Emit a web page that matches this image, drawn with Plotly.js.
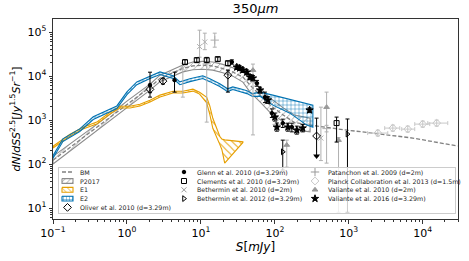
<!DOCTYPE html>
<html><head><meta charset="utf-8">
<script src="https://cdn.plot.ly/plotly-3.0.1.min.js"></script>
<style>html,body{margin:0;padding:0;background:#fff}#plot{width:469px;height:261px}</style>
</head><body><div id="plot"></div>
<script>
// ---------------- DATA ----------------
// BM model (dashed line)
const bmS = [0.1, 0.43, 1.0, 2.05, 2.8, 4.2, 5.7, 7.8, 10.6, 14.5, 19.8, 27, 37, 46, 63, 86, 130, 185, 300, 553, 950, 2110, 7330, 29700];
const bmN = [122, 760, 2260, 5600, 8900, 12200, 15000, 17100, 17800, 17000, 14900, 12400, 9500, 6300, 3700, 2200, 1300, 880, 770, 658, 590, 507, 390, 257];
// P2017 band
const p17S  = [0.1, 0.43, 1.0, 2.05, 2.8, 4.2, 5.7, 7.8, 10.6, 14.5, 19.8, 27, 37, 46, 63, 86, 130, 185, 300];
const p17Hi = [150, 900, 2700, 6600, 10500, 14500, 18000, 21000, 21900, 21000, 18500, 15500, 12300, 9000, 5300, 3200, 1900, 1300, 1100];
const p17Lo = [100, 640, 1900, 4800, 7500, 10200, 12500, 14000, 14400, 13700, 12000, 10000, 7300, 4400, 2600, 1500, 900, 600, 540];
// E1 band
const e1S  = [0.1, 0.17, 0.254, 0.39, 0.59, 0.8, 1.1, 1.5, 2.05, 2.8, 4.2, 5.7, 7.8, 9.6, 12, 13.2, 14.5, 16.4, 18, 19.2, 21, 37];
const e1Hi = [255, 480, 690, 900, 1510, 2070, 2070, 2300, 2840, 3700, 4550, 4550, 5050, 4300, 3300, 2100, 1100, 640, 430, 370, 355, 320];
const e1Lo = [232, 435, 630, 815, 1370, 1880, 1880, 2090, 2570, 3340, 4120, 4120, 4570, 3900, 2450, 1350, 650, 400, 280, 215, 105, 310];
// E2 band
const e2S  = [0.1, 0.136, 0.23, 0.35, 0.73, 1.0, 1.36, 2.05, 2.8, 4.2, 5.2, 7.1, 10.6, 13.2, 18, 23, 27, 34, 42, 50, 63, 94, 160, 270, 327];
const e2Hi = [155, 375, 630, 1190, 2100, 4400, 7400, 10200, 12500, 10200, 7400, 8700, 10200, 8700, 6700, 5150, 5700, 5150, 4650, 4000, 4330, 3700, 3000, 2400, 2190];
const e2Lo = [135, 325, 550, 1030, 1830, 3800, 6400, 8800, 10900, 8800, 6400, 7500, 8800, 7500, 5800, 4450, 4950, 4450, 4000, 3450, 3500, 2190, 1440, 770, 690];

// Observations: S, N, upper, lower
const glennS  = [2.05, 4.4, 26.2, 57.3, 73.5, 91.2, 128, 170];
const glennN  = [6300, 8100, 21000, 6900, 3330, 1440, 850, 690];
const glennHi = [12300, 12300, 23500, 8000, 4330, 1800, 1050, 850];
const glennLo = [3330, 4330, 18700, 5900, 2500, 1150, 680, 540];

const clemS  = [6.1, 8.8, 12.0, 16.9, 23.2, 684];
const clemN  = [20800, 23100, 23100, 24400, 19700, 855];
const clemHi = [23500, 26000, 26000, 27000, 22000, 1170];
const clemLo = [18500, 20500, 20500, 21800, 17500, 316];

const beth10S  = [5.7, 9.6, 11.3, 420];
const beth10N  = [15000, 47000, 60000, 390];
const beth10Hi = [19700, 111000, 95000, 1970];
const beth10Lo = [3330, 27000, 40000, 120];

const beth12S  = [128, 960];
const beth12N  = [190, 480];
const beth12Hi = [350, 1060];
const beth12Lo = [73, 8];

const oliverS  = [2.05, 3.07, 23.2, 367];
const oliverN  = [5000, 7700, 10500, 435];
const oliverHi = [6000, 9000, 13700, 1110];
const oliverLo = [4200, 6600, 4330, 152];
const oliverLimS = [367];
const oliverLimN = [152];

const patS  = [12.0, 15.4, 106, 501];
const patN  = [19000, 66000, 800, 640];
const patHi = [27000, 95000, 1000, 760];
const patLo = [900, 45600, 640, 540];

const planckS    = [2470, 3940, 6270, 10000, 15450];
const planckN    = [507, 658, 624, 811, 855];
const planckSmin = [1800, 3060, 5200, 7800, 11700];
const planckSmax = [3370, 4890, 7800, 12450, 21800];
const planckHi   = [590, 770, 730, 950, 1000];
const planckLo   = [435, 560, 535, 690, 730];

const val10S  = [50.6, 145, 501, 727];
const val10N  = [13700, 271, 1970, 350];
const val10Hi = [18800, 350, 4330, 400];
const val10Lo = [460, 85, 105, 8];

const val16S  = [30.6, 33.5, 36.9, 41.8, 46.1, 50.6, 63.1, 80.6, 100, 106.5, 150, 198, 238, 295];
const val16N  = [16000, 15200, 13700, 12300, 9500, 9000, 4810, 2850, 1170, 690, 690, 590, 658, 1690];
const val16Hi = [18000, 17200, 15500, 13900, 10900, 10300, 5600, 3400, 1450, 860, 850, 730, 800, 1900];
const val16Lo = [14200, 13400, 12100, 10800, 8300, 7800, 4100, 2400, 950, 560, 560, 480, 540, 1500];

// Tick labels
const xTickVals = [0.1, 1, 10, 100, 1000, 10000];
const xTickText = ['10<sup>−1</sup>', '10<sup>0</sup>', '10<sup>1</sup>', '10<sup>2</sup>', '10<sup>3</sup>', '10<sup>4</sup>'];
const yTickVals = [10, 100, 1000, 10000, 100000];
const yTickText = ['10<sup>1</sup>', '10<sup>2</sup>', '10<sup>3</sup>', '10<sup>4</sup>', '10<sup>5</sup>'];

const legendCol1 = ['BM', 'P2017', 'E1', 'E2', 'Oliver et al. 2010 (d=3.29m)'];
const legendCol2 = ['Glenn et al. 2010 (d=3.29m)', 'Clements et al. 2010 (d=3.29m)', 'Bethermin et al. 2010 (d=2m)', 'Bethermin et al. 2012 (d=3.29m)'];
const legendCol3 = ['Patanchon et al. 2009 (d=2m)', 'Planck Collaboration et al. 2013 (d=1.5m)', 'Valiante et al. 2010 (d=2m)', 'Valiante et al. 2016 (d=3.29m)'];

// ---------------- STYLE ----------------
const FONT = 'DejaVu Sans, sans-serif';
const BLUE = '#0072B2', ORANGE = '#E69F00', GRAY = '#808080';
const LG = '#b0b0b0';

function poly(S, hi, lo) {
  const xs = S.concat(S.slice().reverse()); xs.push(S[0]);
  const ys = hi.concat(lo.slice().reverse()); ys.push(hi[0]);
  return {x: xs, y: ys};
}
function bandTrace(S, hi, lo, color, shape, size, sol, xa, ya) {
  const p = poly(S, hi, lo);
  return {x: p.x, y: p.y, xaxis: xa || 'x', yaxis: ya || 'y', mode: 'lines', fill: 'toself',
    fillcolor: 'rgba(0,0,0,0)', line: {color: color, width: 1.1},
    fillpattern: {shape: shape, fgcolor: color, bgcolor: 'rgba(0,0,0,0)', size: size, solidity: sol},
    hoverinfo: 'skip'};
}
function obs(S, N, hi, lo, sym, col, ecol, size) {
  return {x: S, y: N, mode: 'markers', type: 'scatter',
    marker: {symbol: sym, color: col, size: size, line: {color: col, width: 1}},
    error_y: {type: 'data', symmetric: false,
      array: hi.map((h, i) => h - N[i]), arrayminus: lo.map((l, i) => N[i] - l),
      color: ecol, thickness: 1, width: 2}, hoverinfo: 'skip'};
}

const traces = [];
traces.push(bandTrace(p17S, p17Hi, p17Lo, '#8c8c8c', '/', 5, 0.14));
traces.push({x: bmS, y: bmN, mode: 'lines', line: {color: GRAY, width: 1.3, dash: '4px,2px'}, hoverinfo: 'skip'});
traces.push(bandTrace(e1S, e1Hi, e1Lo, ORANGE, '\\', 5, 0.18));
traces.push(bandTrace(e2S, e2Hi, e2Lo, BLUE, '+', 4, 0.2));

traces.push(obs(beth10S, beth10N, beth10Hi, beth10Lo, 'x-thin-open', LG, LG, 5));
traces.push(obs(patS, patN, patHi, patLo, 'cross-thin-open', LG, LG, 6));
traces.push(obs(val10S, val10N, val10Hi, val10Lo, 'triangle-up', '#999999', LG, 5));
const pl = obs(planckS, planckN, planckHi, planckLo, 'diamond-open', '#c8c8c8', '#c8c8c8', 6);
pl.error_x = {type: 'data', symmetric: false,
  array: planckSmax.map((v, i) => v - planckS[i]), arrayminus: planckSmin.map((v, i) => planckS[i] - v),
  color: '#c8c8c8', thickness: 1, width: 2};
traces.push(pl);
traces.push(obs(glennS, glennN, glennHi, glennLo, 'circle', '#000', '#000', 3.5));
traces.push(obs(clemS, clemN, clemHi, clemLo, 'square-open', '#000', '#000', 5));
traces.push(obs(beth12S, beth12N, beth12Hi, beth12Lo, 'triangle-right-open', '#000', '#000', 5));
traces.push(obs(oliverS, oliverN, oliverHi, oliverLo, 'diamond-open', '#000', '#000', 6));
traces.push({x: oliverLimS, y: oliverLimN, mode: 'markers', marker: {symbol: 'triangle-down', color: '#000', size: 6}, hoverinfo: 'skip'});
traces.push(obs(val16S, val16N, val16Hi, val16Lo, 'star', '#000', '#000', 5.5));

// ---------------- LEGEND (inset subplot with its own frame) ----------------
const rowY = [172.0, 181.0, 189.8, 198.6, 207.4];
const c1 = 62, c1w = 11, c1t = 78, c2 = 184, c2t = 195, c3 = 315, c3t = 326;
function legPatch(row, color, shape, size, sol) {
  const y0 = rowY[row] - 2.4, y1 = rowY[row] + 2.4;
  return bandTrace([c1, c1 + c1w], [y0, y0], [y1, y1], color, shape, size, sol, 'x2', 'y2');
}
traces.push({x: [c1, c1 + c1w], y: [rowY[0], rowY[0]], xaxis: 'x2', yaxis: 'y2', mode: 'lines',
  line: {color: GRAY, width: 1.3, dash: '4px,2px'}, hoverinfo: 'skip'});
traces.push(legPatch(1, '#8c8c8c', '/', 4, 0.2));
traces.push(legPatch(2, ORANGE, '\\', 4, 0.2));
traces.push(legPatch(3, BLUE, '+', 3, 0.25));
function legMark(x, row, sym, col, size) {
  return {x: [x], y: [rowY[row]], xaxis: 'x2', yaxis: 'y2', mode: 'markers',
    marker: {symbol: sym, color: col, size: size, line: {color: col, width: 1}}, hoverinfo: 'skip'};
}
traces.push(legMark(c1 + c1w / 2, 4, 'diamond-open', '#000', 6));
traces.push(legMark(c2, 0, 'circle', '#000', 3.5));
traces.push(legMark(c2, 1, 'square-open', '#000', 5));
traces.push(legMark(c2, 2, 'x-thin-open', '#999', 5));
traces.push(legMark(c2, 3, 'triangle-right-open', '#000', 5));
traces.push(legMark(c3, 0, 'cross-thin-open', '#999', 6));
traces.push(legMark(c3, 1, 'diamond-open', '#c8c8c8', 6));
traces.push(legMark(c3, 2, 'triangle-up', '#999', 5));
traces.push(legMark(c3, 3, 'star', '#000', 5.5));

const annotations = [];
function addCol(labels, x) {
  labels.forEach((t, i) => annotations.push({text: t, x: x, y: rowY[i], xref: 'x2', yref: 'y2',
    xanchor: 'left', yanchor: 'middle', showarrow: false, font: {family: FONT, size: 6.3, color: '#222'}}));
}
addCol(legendCol1, c1t); addCol(legendCol2, c2t); addCol(legendCol3, c3t);

function minorVals(d0, d1) {
  const out = [];
  for (let d = d0; d < d1; d++) for (let k = 2; k <= 9; k++) out.push(k * Math.pow(10, d));
  return out;
}

const axisCommon = {type: 'log', showline: true, mirror: true, linecolor: '#333', linewidth: 1,
  ticks: 'outside', ticklen: 3.5, tickwidth: 0.8, tickcolor: '#333', showgrid: false, zeroline: false,
  tickfont: {family: FONT, size: 11, color: '#000'}, tickmode: 'array'};

const layout = {
  width: 469, height: 261, showlegend: false, hovermode: false,
  margin: {l: 53, r: 11, t: 19, b: 42, pad: 0},
  paper_bgcolor: '#ffffff', plot_bgcolor: 'rgba(255,255,255,0.8)',
  font: {family: FONT, color: '#000'},
  title: {text: '350<i>μm</i>', x: 0.5, xref: 'paper', xanchor: 'center', y: 0.968, yref: 'container', yanchor: 'middle',
    font: {family: FONT, size: 13, color: '#000'}},
  xaxis: Object.assign({}, axisCommon, {range: [-1, Math.log10(30000)], tickvals: xTickVals, ticktext: xTickText,
    minor: {tickvals: minorVals(-1, 5), ticks: 'outside', ticklen: 2, tickwidth: 0.6, tickcolor: '#333', showgrid: false},
    title: {text: '<i>S</i>[<i>mJy</i>]', font: {family: FONT, size: 12, color: '#000'}, standoff: 3}}),
  yaxis: Object.assign({}, axisCommon, {range: [0.75, 5.3], tickvals: yTickVals, ticktext: yTickText,
    minor: {tickvals: minorVals(0, 6), ticks: 'outside', ticklen: 2, tickwidth: 0.6, tickcolor: '#333', showgrid: false},
    title: {text: '<i>dN</i>/<i>dSS</i><sup>2.5</sup>[<i>Jy</i><sup>1.5</sup><i>Sr</i><sup>−1</sup>]', font: {family: FONT, size: 11, color: '#000'}, standoff: 4}}),
  xaxis2: {domain: [0.0148, 0.9926], range: [59, 455], anchor: 'y2', showline: true, mirror: true, linecolor: '#cccccc', linewidth: 1,
    showticklabels: false, ticks: '', showgrid: false, zeroline: false, fixedrange: true},
  yaxis2: {domain: [0.03, 0.255], range: [213, 168], anchor: 'x2', showline: true, mirror: true, linecolor: '#cccccc', linewidth: 1,
    showticklabels: false, ticks: '', showgrid: false, zeroline: false, fixedrange: true},
  annotations: annotations
};

Plotly.newPlot('plot', traces, layout, {displayModeBar: false});
</script></body></html>
